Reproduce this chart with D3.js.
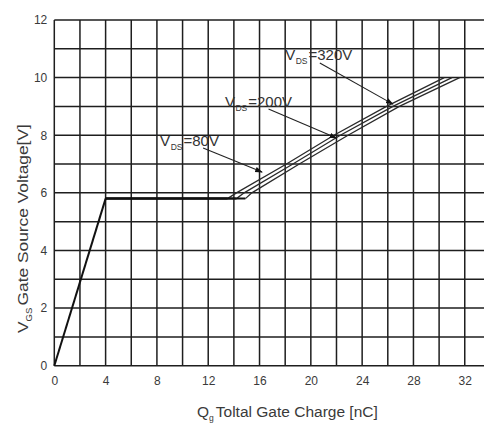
<!DOCTYPE html>
<html>
<head>
<meta charset="utf-8">
<script src="https://cdn.jsdelivr.net/npm/d3@7"></script>
<style>
  html, body { margin: 0; padding: 0; background: #fff; }
  svg { display: block; font-family: "Liberation Sans", Arial, sans-serif; }
</style>
</head>
<body>
<svg id="chart" width="484" height="424"></svg>
<script>
// ---- data ----
const qTicks = [0, 4, 8, 12, 16, 20, 24, 28, 32];
const vTicks = [0, 2, 4, 6, 8, 10, 12];
const qMinor = d3.range(0, 34, 2);
const vMinor = d3.range(0, 13, 1);

// initial rise (common to all)
const qRise = [0, 4];
const vRise = [0, 5.8];

// plateau + rising part for each V_DS
const seriesNames = ["80V", "200V", "320V"];
const vCurve = [5.8, 5.8, 6, 7, 8, 9, 10];
const q80  = [4, 13.5, 14.2, 18.1, 21.8, 25.9, 30.4];
const q200 = [4, 14.2, 14.8, 18.6, 22.3, 26.4, 31.0];
const q320 = [4, 14.9, 15.4, 19.1, 22.9, 26.9, 31.6];

// annotations (data coordinates): label anchor, leader start, leader tip
const annLabelQ = [8.25, 13.3, 18.0];
const annLabelV = [7.62, 8.98, 10.61];
const annFromQ = [11.6, 16.7, 20.7];
const annFromV = [7.56, 8.91, 10.51];
const annTipQ = [16.2, 22.0, 26.4];
const annTipV = [6.72, 7.9, 9.08];

// ---- scales ----
const svg = d3.select("#chart");
const x = d3.scaleLinear().domain([0, 33.5]).range([54.3, 484]);
const y = d3.scaleLinear().domain([0, 12]).range([365.7, 20]);

// ---- grid ----
const grid = svg.append("g");
grid.selectAll("line.v").data(qMinor).join("line")
  .attr("x1", d => x(d)).attr("x2", d => x(d))
  .attr("y1", y(0)).attr("y2", y(12))
  .attr("stroke", "#1e1e1e").attr("stroke-width", 1.5);
grid.selectAll("line.h").data(vMinor).join("line")
  .attr("x1", x(0)).attr("x2", x(33.5))
  .attr("y1", d => y(d)).attr("y2", d => y(d))
  .attr("stroke", "#1e1e1e").attr("stroke-width", 1.5);

// ---- axes (labels only) ----
const xAxis = svg.append("g").attr("transform", `translate(0,${y(0)})`)
  .call(d3.axisBottom(x).tickValues(qTicks).tickSize(0).tickPadding(11).tickFormat(d3.format("d")));
const yAxis = svg.append("g").attr("transform", `translate(${x(0)},0)`)
  .call(d3.axisLeft(y).tickValues(vTicks).tickSize(0).tickPadding(7).tickFormat(d3.format("d")));
[xAxis, yAxis].forEach(a => {
  a.select(".domain").remove();
  a.selectAll("text").attr("font-size", 12).attr("fill", "#3a3a3a")
    .attr("font-family", "'Liberation Sans', Arial, sans-serif");
});

// ---- curves ----
const line = d3.line().x(d => x(d[0])).y(d => y(d[1]));
svg.append("path").datum(d3.zip(qRise, vRise)).attr("d", line)
  .attr("fill", "none").attr("stroke", "#111").attr("stroke-width", 2);
const qSeries = [q80, q200, q320];
qSeries.forEach((qs, i) => {
  const pts = d3.zip(qs, vCurve);
  // plateau segment
  svg.append("path").datum(pts.slice(0, 2)).attr("d", line)
    .attr("fill", "none").attr("stroke", "#111").attr("stroke-width", 2);
  // rising segment
  svg.append("path").datum(pts.slice(1)).attr("d", line)
    .attr("fill", "none").attr("stroke", "#2a2a2a").attr("stroke-width", 1.3);
});

// ---- annotations ----
svg.append("defs").append("marker")
  .attr("id", "tip").attr("viewBox", "0 0 10 10").attr("refX", 9).attr("refY", 5)
  .attr("markerWidth", 7).attr("markerHeight", 7).attr("orient", "auto")
  .append("path").attr("d", "M0,1.5 L10,5 L0,8.5 Z").attr("fill", "#111");

seriesNames.forEach((name, i) => {
  svg.append("line")
    .attr("x1", x(annFromQ[i])).attr("y1", y(annFromV[i]))
    .attr("x2", x(annTipQ[i])).attr("y2", y(annTipV[i]))
    .attr("stroke", "#222").attr("stroke-width", 1.1)
    .attr("marker-end", "url(#tip)");
  const t = svg.append("text")
    .attr("x", x(annLabelQ[i])).attr("y", y(annLabelV[i]))
    .attr("font-size", 15).attr("fill", "#333");
  t.append("tspan").text("V");
  t.append("tspan").attr("font-size", 8.5).attr("dy", 4).attr("dx", 0.5).text("DS");
  t.append("tspan").attr("dy", -4).attr("dx", 1).text("=" + name);
});

// ---- axis titles ----
const xt = svg.append("text").attr("x", 197).attr("y", 416.5)
  .attr("font-size", 15.5).attr("fill", "#3a3a3a");
xt.append("tspan").text("Q");
xt.append("tspan").attr("font-size", 8.5).attr("dy", 4).text("g");
xt.append("tspan").attr("dy", -4).attr("dx", 2).text("Toltal Gate Charge [nC]");

const yt = svg.append("text")
  .attr("transform", "translate(28,333) rotate(-90) scale(1.12,1)")
  .attr("font-size", 15.5).attr("fill", "#3a3a3a");
yt.append("tspan").text("V");
yt.append("tspan").attr("font-size", 8.5).attr("dy", 4).text("GS");
yt.append("tspan").attr("dy", -4).attr("dx", 2).text("Gate Source Voltage[V]");
</script>
</body>
</html>
